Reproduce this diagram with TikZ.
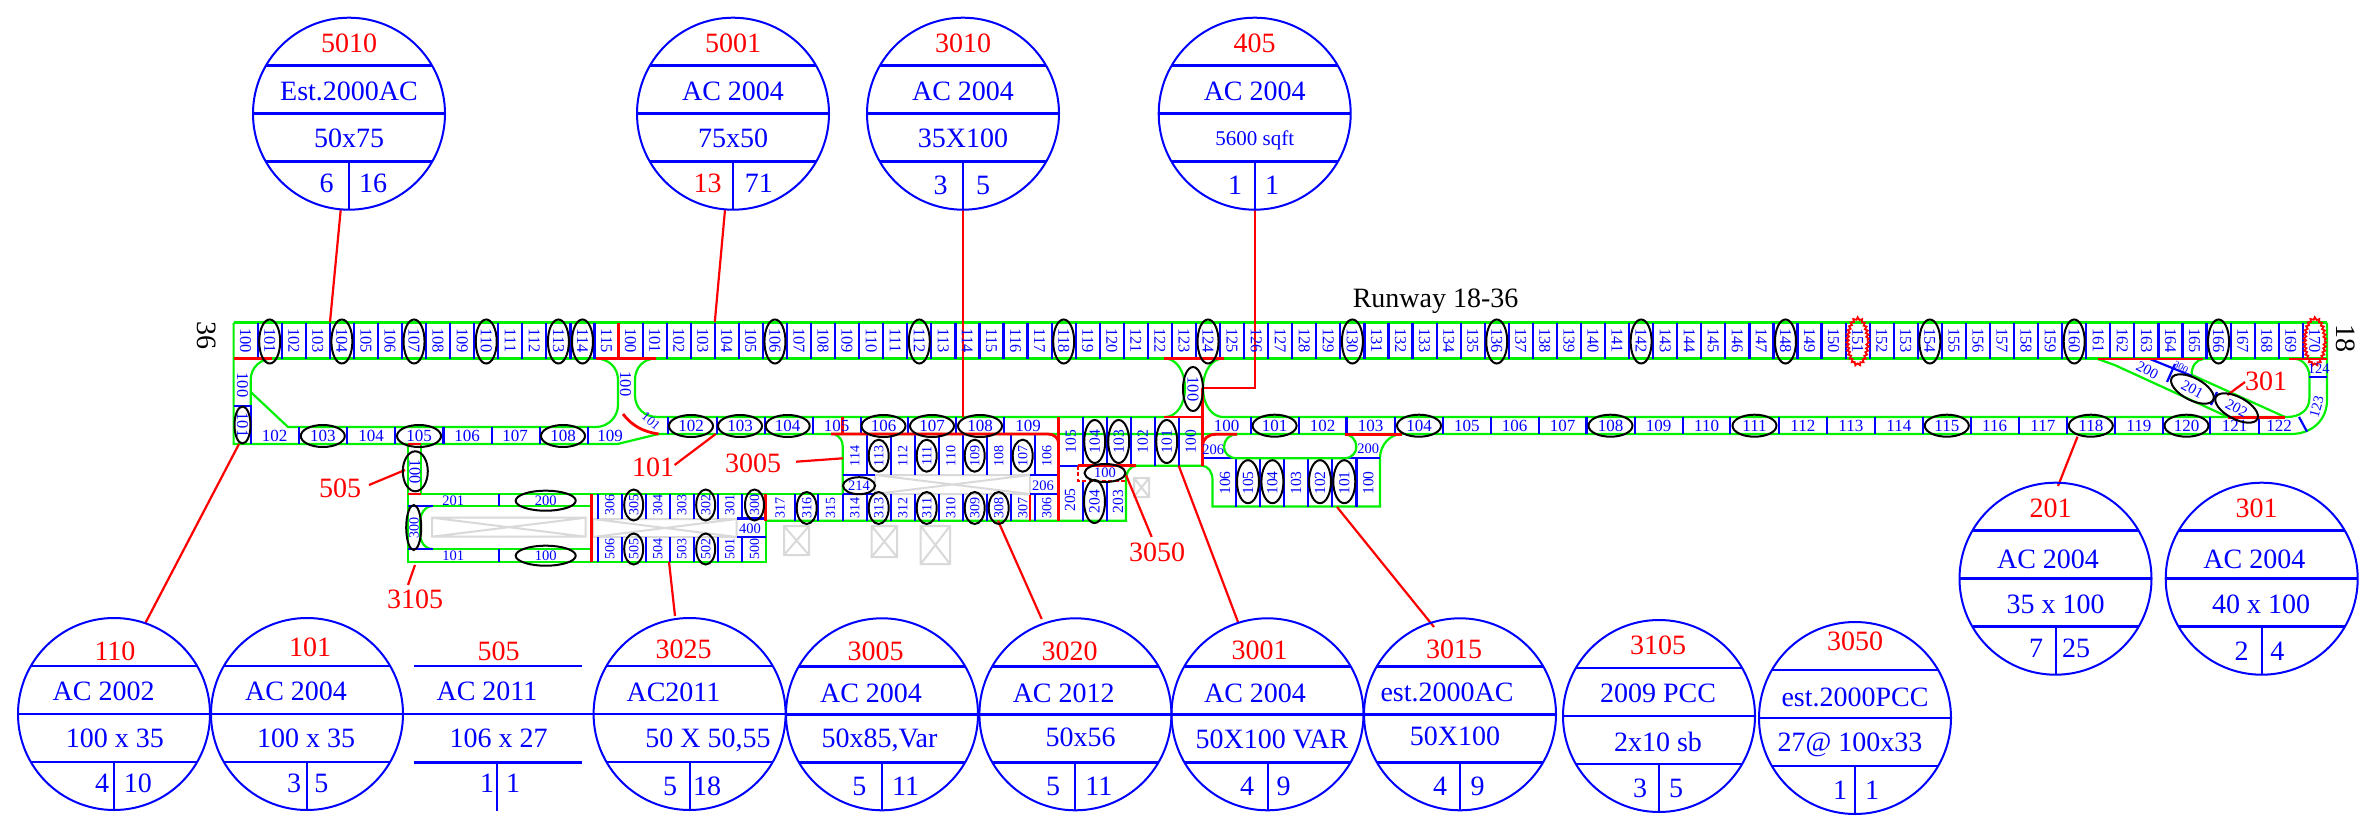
\documentclass[tikz,border=0pt]{standalone}
\usepackage{fontspec}
\setmainfont{Liberation Serif}
\usetikzlibrary{shapes.geometric,decorations.pathmorphing,calc}
\definecolor{gr}{RGB}{0,240,0}
\definecolor{bl}{RGB}{0,0,255}
\definecolor{rd}{RGB}{255,0,0}
\definecolor{gy}{RGB}{217,217,217}
\newcount\nn
\newcommand{\lab}[4]{\global\advance\nn by 1\relax\node[#1] (t\the\nn) at (#2,#3) {#4};}
\newcommand{\ovl}[5]{\global\advance\nn by 1\relax\node[ovalb,minimum width=#3,minimum height=#4,rotate=#5] (o\the\nn) at (#1,#2) {};}
\newcommand{\conn}[3]{\coordinate (#1a) at #2;\coordinate (#1b) at #3;\draw[rl] (#1a) -- (#1b);}
\newcommand{\gbox}[4]{\draw[gyl] (#1,#2) rectangle (#3,#4) (#1,#2) -- (#3,#4) (#1,#4) -- (#3,#2);}
\newcommand{\bub}[3]{%
 \node[bubc] (c#1) at (#2,#3) {};
 \draw[bhl] ($(#2,#3)+(-83,-48)$) -- ($(#2,#3)+(83,-48)$);
 \draw[bhl] ($(#2,#3)+(-96,0)$) -- ($(#2,#3)+(96,0)$);
 \draw[bhl] ($(#2,#3)+(-83,48)$) -- ($(#2,#3)+(83,48)$);
 \draw[bvl] ($(#2,#3)+(0,48)$) -- ($(#2,#3)+(0,96)$);
}
\tikzset{
 gl/.style={draw=gr,line width=2.2},
 bll/.style={draw=bl,line width=2.2},
 rl/.style={draw=rd,line width=2.2},
 rthick/.style={draw=rd,line width=2.8},
 gyl/.style={draw=gy,line width=2},
 ovalb/.style={draw=black,ellipse,line width=2,inner sep=0,outer sep=0},
 bubc/.style={draw=bl,circle,line width=2,minimum size=192,inner sep=0,outer sep=0},
 bhl/.style={draw=bl,line width=2.6},
 bvl/.style={draw=bl,line width=2},
 big/.style={text=bl,inner sep=0,font=\fontsize{28}{28}\selectfont,text height=19pt,text depth=0pt},
 bigr/.style={big,text=rd},
 blk/.style={big,text=black},
 vdn/.style={text=bl,inner sep=0,rotate=-90,font=\fontsize{16.5}{16.5}\selectfont},
 vup/.style={text=bl,inner sep=0,rotate=90,font=\fontsize{15.5}{15.5}\selectfont},
 vsm/.style={text=bl,inner sep=0,rotate=90,font=\fontsize{14}{14}\selectfont},
 hl/.style={text=bl,inner sep=0,font=\fontsize{17}{17}\selectfont},
 hs/.style={text=bl,inner sep=0,font=\fontsize{14.5}{14.5}\selectfont},
}
\begin{document}
\begin{tikzpicture}[x=1pt,y=-1pt]
\useasboundingbox (0,0) rectangle (2367,824);
\fill[white] (0,0) rectangle (2367,824);
% grey boxes
\gbox{432}{517.7}{585.7}{536.7}
\gbox{593}{519}{736.7}{537}
\gbox{875}{475}{1030}{494}
\gbox{784}{526}{809}{555}
\gbox{871.7}{526}{897}{557}
\gbox{920.7}{526}{950}{564}
\gbox{1134}{478}{1149}{497}
% runway outline
\draw[gl] (233.6,322.5) -- (2327,322.5);
\draw[gl] (233.6,358.5) -- (2327,358.5);
\draw[gl] (233.6,322.5) -- (233.6,444) -- (617.5,444) -- (658.6,434) -- (2291,434) .. controls (2312,434) and (2327,420) .. (2327,400) -- (2327,322.5);
\draw[gl] (273,358.5) .. controls (261,358.5) and (250.7,367) .. (250.7,380) -- (250.7,406);
\draw[gl] (250.7,392) -- (288,427) -- (596,427) .. controls (608,427) and (618,417) .. (618,405) -- (618,380) .. controls (618,367) and (608,358.5) .. (596,358.5);
\draw[gl] (656,358.5) .. controls (644,358.5) and (635,367) .. (635,380) -- (635,395) .. controls (635,408) and (644,417) .. (658,417) -- (1165,417) .. controls (1176,417) and (1185,405) .. (1185,388) .. controls (1185,371) and (1176,358.5) .. (1165,358.5);
\draw[gl] (1223,358.5) .. controls (1212,358.5) and (1203,371) .. (1203,388) .. controls (1203,405) and (1212,417) .. (1223,417) -- (2287,417) .. controls (2300,417) and (2309.4,410) .. (2309.4,398) -- (2309.4,376) .. controls (2309.4,368) and (2303,359) .. (2295.5,359);
% mid block
\draw[gl] (835,434.5) .. controls (839,436) and (842.7,440) .. (842.7,446) -- (842.7,494);
\draw[gl] (408,444) -- (408,561.7) -- (765.7,561.7) -- (765.7,494);
\draw[gl] (420.7,444) -- (420.7,494);
\draw[gl] (408,494.3) -- (842.7,494.3);
\draw[gl] (432.6,506) -- (591.7,506);
\draw[gl] (432.6,549) -- (591.7,549);
\draw[gl] (432.6,506) .. controls (425,506) and (420,514) .. (420,522) -- (420,533) .. controls (420,542) and (425,549) .. (432.6,549);
\draw[gl] (765.7,520.7) -- (1126,520.7) -- (1126,481) .. controls (1126,472) and (1130,465.7) .. (1137,465.7) -- (1201.8,465.7) .. controls (1208,465.7) and (1212.5,472) .. (1212.5,480) -- (1212.5,506.5) -- (1380,506.5) -- (1380,458) .. controls (1380,445) and (1390,434) .. (1402,434);
% diagonals
\draw[gl] (2097.7,359) -- (2114.6,365) -- (2228,417);
\draw[gl] (2192,375) -- (2285,417);
\draw[gl] (2203,359) .. controls (2196,360) and (2191.6,366) .. (2191.6,375);
% blue ticks
\foreach \k in {1,...,86}{\pgfmathsetmacro{\xx}{233.6+24.06*\k}\draw[bll] (\xx,322.5) -- (\xx,358.5);}
\foreach \xx in {298.9,347.1,395.3,443.5,491.7,539.9,588.1}{\draw[bll] (\xx,427) -- (\xx,444);}
\foreach \xx in {668,716.8,765,812.7,860.7,908,956,1004,1250.7,1298.6,1346.4,1395,1443,1490.7,1538.6,1586.4,1634.6,1682.9,1730.3,1778.7,1827,1874.7,1923,1970.6,2018.6,2067,2114.6,2163,2210,2259}{\draw[bll] (\xx,417) -- (\xx,434);}
\draw[bll] (233.6,406) -- (250.7,406) -- (250.7,444);
\foreach \xx in {866.7,890.7,914.7,938.7,962.7,986.7,1010.7,1034.7}{\draw[bll] (\xx,434) -- (\xx,475);\draw[bll] (\xx,494) -- (\xx,520.7);}
\draw[bll] (842.7,494) -- (842.7,520.7);
\draw[bll] (842.7,475) -- (875,475);
\draw[bll] (842.7,494.3) -- (875,494.3);
\draw[bll] (1030,475) -- (1058.7,475);
\draw[bll] (1030,494.3) -- (1058.7,494.3);
\foreach \xx in {795,818.3}{\draw[bll] (\xx,494) -- (\xx,520.7);}
\foreach \xx in {1082.7,1106.7,1130.7,1154.7,1178.7}{\draw[bll] (\xx,417) -- (\xx,465.7);}
\foreach \xx in {1082.7,1106.7}{\draw[bll] (\xx,481) -- (\xx,520.7);}
\draw[bll] (1058.7,465.7) -- (1078,465.7);
\draw[bll] (1202.5,458.3) -- (1380,458.3);
\foreach \xx in {1236.2,1260,1284,1308,1332.2,1356.5}{\draw[bll] (\xx,458.3) -- (\xx,506.5);}
\draw[gl] (1237.3,434.3) .. controls (1229,434.3) and (1224,440) .. (1224,447) .. controls (1224,453) and (1229,458.3) .. (1237.3,458.3) -- (1345,458.3) .. controls (1351,458.3) and (1356.4,453) .. (1356.4,447) .. controls (1356.4,440) and (1351,434.3) .. (1345,434.3);
\draw[bll] (408,506) -- (432.6,506);
\draw[bll] (408,549) -- (432.6,549);
\foreach \xx in {499.3}{\draw[bll] (\xx,494) -- (\xx,506);\draw[bll] (\xx,549) -- (\xx,561.7);}
\foreach \xx in {597.7,621.7,645.7,669.7,693.7,717.7,741.7}{\draw[bll] (\xx,494) -- (\xx,519);\draw[bll] (\xx,537) -- (\xx,561.7);}
\draw[bll] (737,518.5) -- (765.7,518.5);
\draw[bll] (737,537) -- (765.7,537);
\draw[bll] (2309.4,377) -- (2327,377);
\draw[bll] (2299,417) -- (2307,431.7);
\draw[bll] (2150,359) -- (2192,376);
\draw[bll] (2167,382) -- (2175,364);
\draw[bll] (2211,405) -- (2217,392);
% red structure
\draw[rthick] (233.6,358.5) -- (272,358.5);
\draw[rthick] (596,358.5) -- (656,358.5);
\draw[rthick] (618.6,322.5) -- (618.6,358.5);
\draw[rthick] (623,414) .. controls (632,426) and (644,432) .. (658.6,434);
\draw[rthick] (408,444) -- (421,444);
\draw[rthick] (408,494) -- (421,494);
\draw[rthick] (591.7,494) -- (591.7,561.7);
\draw[rthick] (765.7,494) -- (765.7,520.7);
\draw[rthick] (842.7,417) -- (842.7,434);
\draw[rthick] (831,434) -- (1048,434) .. controls (1054,434) and (1058.7,438) .. (1058.7,444);
\draw[rthick] (1058.7,417) -- (1058.7,520.7);
\draw[rthick] (1030,495) -- (1030,520.7);
\draw[rthick] (1164,358.5) -- (1224,358.5);
\draw[rthick] (1164,417) -- (1202.5,417);
\draw[rthick] (1202.5,388) -- (1202.5,465.7);
\draw[rthick] (1202.5,446) .. controls (1202.5,439) and (1208,434.3) .. (1216,434.3) -- (1237,434.3);
\draw[rthick] (1344.6,434.3) -- (1402,434.3);
\draw[rthick] (2097.7,359) -- (2203,359);
\draw[rthick] (2289,359) -- (2327,359);
\draw[rthick] (2228,417.5) -- (2285,417.5);
\draw[rthick] (1078,465.7) -- (1136,465.7);
\draw[rthick,dash pattern=on 4pt off 2.5pt] (1078,465.7) -- (1078,481) -- (1126,481);
% connectors
\conn{a1}{(340.7,210)}{(330,322)}
\conn{a2}{(725,210)}{(714.8,322)}
\conn{a3}{(963,210)}{(963,417)}
\coordinate (a4a) at (1254.7,210);\coordinate (a4b) at (1202.5,388);
\draw[rl] (a4a) -- (1254.7,388) -- (a4b);
\conn{a5}{(239,444)}{(145.4,623)}
\conn{a6}{(369,485)}{(405,470)}
\conn{a7}{(415,565)}{(408,585)}
\conn{a8}{(669,561.7)}{(675,616)}
\conn{a9}{(674.6,465)}{(715.7,434)}
\conn{a10}{(796,461.7)}{(843,458.3)}
\conn{a11}{(998,520.7)}{(1041.7,619)}
\conn{a12}{(1126,475)}{(1151.7,537)}
\conn{a13}{(1178.7,465.7)}{(1238,622)}
\conn{a14}{(1337,507)}{(1434,627)}
\conn{a15}{(2077.5,436.7)}{(2058,486)}
\conn{a16}{(2245,382)}{(2227.4,395)}
% runway labels
\foreach \k in {0,...,86}{
 \pgfmathsetmacro{\xx}{233.6+24.06*(\k+.5)}
 \pgfmathtruncatemacro{\vv}{\k<16 ? 100+\k : 84+\k}
 \lab{vdn}{\xx}{340.5}{\vv}
}
\foreach \k in {1,4,7,10,13,14,22,28,34,40,46,52,58,64,70,76,82}{
 \pgfmathsetmacro{\xx}{233.6+24.06*(\k+.5)}
 \ovl{\xx}{341.5}{21}{44}{0}
}
\foreach \k in {67,86}{
 \pgfmathsetmacro{\xx}{233.6+24.06*(\k+.5)}
 \draw[rl,line width=1.8,decorate,decoration={zigzag,segment length=4,amplitude=1.2}] (\xx,341.5) ellipse [x radius=10,y radius=23];
}
% left taxiway
\lab{vdn}{242.5}{385}{100}
\lab{vdn}{242.5}{425}{101}
\ovl{242.5}{425}{16}{37}{0}
\lab{vdn}{625.4}{384}{100}
\lab{hl,rotate=-40,font=\fontsize{13}{13}\selectfont}{651}{421}{101}
\foreach \xx/\t in {274.7/102,322.8/103,371/104,419/105,467/106,515/107,563/108,610/109}{\lab{hl}{\xx}{436}{\t}}
\foreach \xx in {322.8,419,563}{\ovl{\xx}{436}{44}{22}{0}}
\foreach \xx/\t in {691/102,740/103,787.7/104,836.7/105,883.5/106,932/107,980/108,1028/109}{\lab{hl}{\xx}{426}{\t}}
\foreach \xx in {691,740,787.7,883.5,932,980}{\ovl{\xx}{426}{44}{22}{0}}
% mid rows
\foreach \xx/\t in {854.7/114,878.7/113,902.7/112,926.7/111,950.7/110,974.7/109,998.7/108,1022.7/107,1046.7/106}{\lab{vsm}{\xx}{456}{\t}}
\foreach \xx in {878.7,926.7,974.7,1022.7}{\ovl{\xx}{455.7}{20}{32}{0}}
\foreach \xx/\t in {780/317,806.7/316,830.5/315,854.7/314,878.7/313,902.7/312,926.7/311,950.7/310,974.7/309,998.7/308,1022.7/307,1046.7/306}{\lab{vsm}{\xx}{508}{\t}}
\foreach \xx in {806.7,878.7,926.7,974.7,998.7}{\ovl{\xx}{508}{20}{32}{0}}
\lab{hs}{859}{485.7}{214}
\ovl{859}{485.7}{32}{17}{0}
\lab{hs}{1043}{485.7}{206}
% left block
\lab{vdn}{415}{471.5}{100}
\ovl{415.3}{471.3}{25}{40}{0}
\lab{vsm}{414}{528}{300}
\ovl{413.7}{527.5}{15}{45}{0}
\lab{hs}{453.3}{500.7}{201}
\lab{hs}{545.7}{500.7}{200}
\ovl{545.7}{500.7}{60}{20}{0}
\lab{hs}{453.3}{555.7}{101}
\lab{hs}{545.7}{555.7}{100}
\ovl{545.7}{555.7}{60}{20}{0}
\foreach \xx/\t in {609.7/306,633.7/305,657.7/304,681.7/303,705.7/302,729.7/301,754.5/300}{\lab{vsm}{\xx}{505}{\t}}
\foreach \xx/\t in {609.7/506,633.7/505,657.7/504,681.7/503,705.7/502,729.7/501,754.5/500}{\lab{vsm}{\xx}{549}{\t}}
\foreach \xx in {633.7,705.7,754.5}{\ovl{\xx}{505}{19}{31}{0}}
\foreach \xx in {633.7,705.7}{\ovl{\xx}{549}{19}{31}{0}}
\lab{hs}{750}{529}{400}
% center blocks
\foreach \xx/\t in {1070.7/105,1094.7/104,1118.7/103,1142.7/102,1166.7/101,1190.7/100}{\lab{vup}{\xx}{441.5}{\t}}
\foreach \xx in {1094.7,1118.7,1166.7}{\ovl{\xx}{441.5}{21}{43}{0}}
\lab{vup}{1070}{500}{205}
\lab{vup}{1094.5}{501.5}{204}
\lab{vup}{1118}{501.5}{203}
\ovl{1094.5}{501.5}{21}{43}{0}
\lab{hs}{1105}{473}{100}
\ovl{1105}{473}{41}{18}{0}
\lab{vdn}{1193}{389}{100}
\ovl{1193}{389}{20}{44}{0}
% right lane
\foreach \xx/\t in {1226.6/100,1274.6/101,1322.6/102,1370.7/103,1419/104,1466.8/105,1514.6/106,1562.5/107,1610.5/108,1658.7/109,1706.6/110,1754.5/111,1802.9/112,1850.9/113,1898.9/114,1946.8/115,1994.6/116,2042.8/117,2090.8/118,2138.8/119,2186.5/120,2234.5/121,2279/122}{\lab{hl}{\xx}{425.7}{\t}}
\foreach \xx in {1274.6,1419,1610.5,1754.5,1946.8,2090.8,2186.5}{\ovl{\xx}{425.7}{44}{22}{0}}
\lab{hs}{1213.3}{449.3}{206}
\lab{hs}{1368.3}{448.3}{200}
\foreach \xx/\t in {1225/106,1248/105,1272.4/104,1296/103,1320/102,1344.3/101,1368.3/100}{\lab{vup}{\xx}{483}{\t}}
\foreach \xx in {1248,1272.4,1320,1344.3}{\ovl{\xx}{481.7}{22}{43}{0}}
% right end
\lab{hs}{2318.7}{369}{124}
\lab{hs,rotate=75}{2316.6}{406.7}{123}
\lab{hl,rotate=-28,font=\fontsize{15}{15}\selectfont}{2147.4}{370}{200}
\lab{hl,rotate=-28,font=\fontsize{10}{10}\selectfont}{2181}{367}{300}
\lab{hl,rotate=-28,font=\fontsize{15}{15}\selectfont}{2192.4}{389}{201}
\lab{hl,rotate=-28,font=\fontsize{15}{15}\selectfont}{2236.6}{408}{202}
\ovl{2192.4}{389}{47}{22}{-28}
\ovl{2236.6}{408}{47}{22}{-28}
% free labels
\lab{blk}{1435.6}{298}{Runway 18-36}
\lab{blk,rotate=-90}{207}{335.7}{36}
\lab{blk,rotate=-90}{2346}{338}{18}
\lab{bigr}{653}{466.7}{101}
\lab{bigr}{753}{463}{3005}
\lab{bigr}{340}{488}{505}
\lab{bigr}{415}{599}{3105}
\lab{bigr}{1157}{552}{3050}
\lab{bigr}{2266}{381}{301}
% bubbles top
\bub{5010}{349}{113.7}
\lab{bigr}{349}{42.7}{5010}
\lab{big}{349}{90.7}{Est.2000AC}
\lab{big}{349}{138.3}{50x75}
\lab{big}{326.6}{183}{6}
\lab{big}{373}{183}{16}
\bub{5001}{733}{113.7}
\lab{bigr}{733}{42.7}{5001}
\lab{big}{733}{90.7}{AC 2004}
\lab{big}{733}{138.3}{75x50}
\lab{bigr}{707.6}{183}{13}
\lab{big}{758.8}{183}{71}
\bub{3010}{963}{113.7}
\lab{bigr}{963}{42.7}{3010}
\lab{big}{963}{90.7}{AC 2004}
\lab{big}{963}{138.3}{35X100}
\lab{big}{940.5}{185}{3}
\lab{big}{983}{185}{5}
\bub{405}{1254.7}{113.7}
\lab{bigr}{1254.7}{42.7}{405}
\lab{big}{1254.7}{90.7}{AC 2004}
\lab{big,font=\fontsize{21}{21}\selectfont,text height=14pt}{1254.7}{138.3}{5600 sqft}
\lab{big}{1235}{185}{1}
\lab{big}{1272}{185}{1}
% bubbles right
\bub{201}{2055.5}{578.7}
\lab{bigr}{2050.7}{508.3}{201}
\lab{big}{2048}{559}{AC 2004}
\lab{big}{2055.7}{604}{35 x 100}
\lab{big}{2036}{648}{7}
\lab{big}{2076}{648}{25}
\bub{301}{2261.7}{578.7}
\lab{bigr}{2256.7}{508}{301}
\lab{big}{2254.3}{559}{AC 2004}
\lab{big}{2261}{604}{40 x 100}
\lab{big}{2241.7}{651}{2}
\lab{big}{2277.3}{651}{4}
% bubbles bottom
\bub{110}{114}{714}
\lab{bigr}{115}{650.7}{110}
\lab{big}{103.6}{690.7}{AC 2002}
\lab{big}{114.8}{738}{100 x 35}
\lab{big}{102}{783}{4}
\lab{big}{137.8}{783}{10}
\bub{101}{307}{714}
\lab{bigr}{310}{646.7}{101}
\lab{big}{296}{690.7}{AC 2004}
\lab{big}{306}{738}{100 x 35}
\lab{big}{294}{783}{3}
\lab{big}{321.4}{783}{5}
\draw[bhl] (414,666) -- (581.6,666);
\draw[bhl] (403,714) -- (593,714);
\draw[bhl] (414,762.3) -- (581.6,762.3);
\draw[bvl] (497.4,762.3) -- (497.4,811);
\lab{bigr}{498.5}{650.7}{505}
\lab{big}{487}{690.7}{AC 2011}
\lab{big}{498.5}{738}{106 x 27}
\lab{big}{487}{783}{1}
\lab{big}{513}{783}{1}
\bub{3025}{689.6}{714}
\lab{bigr}{683.7}{649.3}{3025}
\lab{big}{673.5}{692.3}{AC2011}
\lab{big}{708}{738}{50 X 50,55}
\lab{big}{670}{786}{5}
\lab{big}{707}{786}{18}
\bub{3005}{882}{714.3}
\lab{bigr}{875.6}{650.7}{3005}
\lab{big}{871}{692.7}{AC 2004}
\lab{big}{879.5}{738}{50x85,Var}
\lab{big}{859.4}{785.7}{5}
\lab{big}{905.6}{785.7}{11}
\bub{3020}{1075.4}{714.3}
\lab{bigr}{1069.5}{650.7}{3020}
\lab{big}{1063.7}{692.7}{AC 2012}
\lab{big}{1080.6}{736.7}{50x56}
\lab{big}{1053}{785.7}{5}
\lab{big}{1098.8}{785.7}{11}
\bub{3001}{1267.5}{714.3}
\lab{bigr}{1259.5}{650}{3001}
\lab{big}{1255}{692.7}{AC 2004}
\lab{big}{1272}{739}{50X100 VAR}
\lab{big}{1247}{785.7}{4}
\lab{big}{1283.6}{785.7}{9}
\bub{3015}{1460}{714.3}
\lab{bigr}{1454}{649.3}{3015}
\lab{big}{1447}{692.3}{est.2000AC}
\lab{big}{1455}{736}{50X100}
\lab{big}{1440}{785.7}{4}
\lab{big}{1477.5}{785.7}{9}
\bub{3105}{1659}{716}
\lab{bigr}{1658}{645}{3105}
\lab{big}{1658}{692.7}{2009 PCC}
\lab{big}{1658}{741.7}{2x10 sb}
\lab{big}{1640}{788}{3}
\lab{big}{1676}{788}{5}
\bub{3050}{1855}{718}
\lab{bigr}{1855}{641}{3050}
\lab{big}{1855}{697}{est.2000PCC}
\lab{big}{1850}{742}{27@ 100x33}
\lab{big}{1840}{790}{1}
\lab{big}{1872}{790}{1}
\end{tikzpicture}
\end{document}
